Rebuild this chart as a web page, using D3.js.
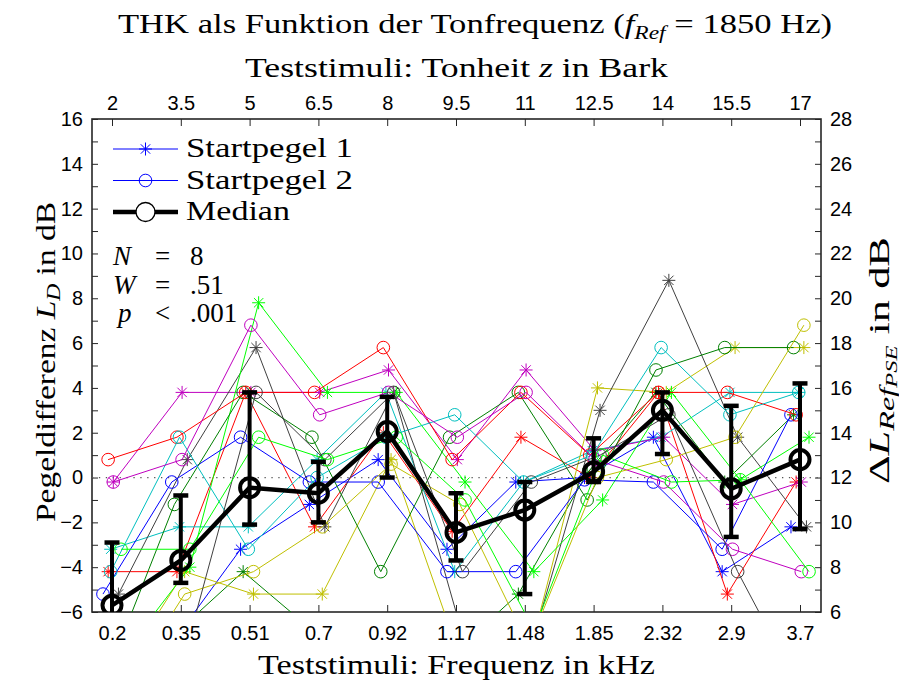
<!DOCTYPE html>
<html>
<head>
<meta charset="utf-8">
<script src="https://cdn.jsdelivr.net/npm/d3@7"></script>
<style>
  body { margin: 0; background: #fff; }
  svg { display: block; }
  .serif { font-family: "Liberation Serif", "Times New Roman", serif; fill: #000; }
  .tick text { font-family: "Liberation Sans", Arial, sans-serif; font-size: 20px; fill: #000; }
</style>
</head>
<body>
<svg id="chart" width="899" height="682"></svg>
<script>
// ---- data ----------------------------------------------------------------
const frequencies = ["0.2", "0.35", "0.51", "0.7", "0.92", "1.17", "1.48", "1.85", "2.32", "2.9", "3.7"];
const barkValues  = ["2", "3.5", "5", "6.5", "8", "9.5", "11", "12.5", "14", "15.5", "17"];
const leftTicks   = [-6, -4, -2, 0, 2, 4, 6, 8, 10, 12, 14, 16];
const rightTicks  = [6, 8, 10, 12, 14, 16, 18, 20, 22, 24, 26, 28];

// level differences per subject (8 subjects), start level 1 (asterisks)
const startpegel1 = [
  [-8.0, -7.4, -3.2, -1.2,  0.8, -3.2, -0.2,  0.0,  1.8, -4.2, -2.2],
  [-9.0, -7.0, -4.2, -6.8, -7.0, -8.0, -5.2,  0.2,  3.8, -0.2,  2.8],
  [-4.2, -4.2,  3.8, -2.2,  2.0, -2.4,  1.8,  0.0,  3.8, -5.2, -0.2],
  [-3.2, -2.2, -2.2,  0.8,  3.8, -4.2, -0.2,  1.2,  1.8,  3.8,  3.8],
  [-0.2,  3.8,  3.8,  3.8,  4.8,  0.8,  4.8,  1.2,  1.8, -1.2, -0.2],
  [-9.0, -4.2, -5.2, -5.2,  0.8, -8.0, -8.0,  4.0,  3.8,  5.8,  5.8],
  [-5.2,  0.8,  5.8, -2.2,  3.8, -7.0, -7.5,  3.0,  8.8,  1.8, -2.2],
  [-8.0, -4.0,  7.8,  3.8,  3.8, -0.2, -4.2, -1.0,  3.8, -0.1,  1.8]
];
// start level 2 (circles)
const startpegel2 = [
  [ -5.2, -0.2,  1.8, -0.2, -0.2, -4.2, -4.2, -0.1, -0.2, -3.2,  2.8],
  [ -9.0, -1.2,  3.8,  1.8, -4.2,  1.8,  3.8, -1.0,  4.8,  5.8,  5.8],
  [  0.8,  1.8,  3.8,  3.8,  5.8,  0.8,  3.8,  1.0,  3.8,  3.8,  2.8],
  [ -4.2,  1.8, -3.2,  0.0,  1.8,  2.8, -0.2,  1.0,  5.8,  2.8,  3.8],
  [ -0.2,  0.8,  6.8,  2.8,  3.8,  1.8,  3.8,  0.8, -0.2, -3.2, -4.2],
  [-10.0, -5.2, -4.2, -2.2,  0.6, -1.2, -7.5,  0.0,  0.8,  1.8,  6.8],
  [-10.0, -7.5,  3.8,  0.8,  3.8, -4.2, -0.2,  1.0,  2.8, -4.2, -10.0],
  [ -3.2, -3.2,  1.8,  0.8,  1.8, -1.0, -6.8,  1.0, -0.2, -0.1, -4.2]
];

const medianValues = [-5.7, -3.7, -0.45, -0.7, 2.05, -2.45, -1.45, 0.25, 3.0, -0.5, 0.8];
const lowerBound   = [-7.0, -4.7, -2.1, -2.0, 0.0, -3.7, -5.2, -0.2, 1.05, -2.65, -2.3];
const upperBound   = [-2.9, -0.8, 3.8, 0.7, 3.6, -0.7, -0.2, 1.75, 3.8, 3.2, 4.2];

const subjectColors = ["#0000ff", "#008000", "#ff0000", "#00bfbf", "#bf00bf", "#bfbf00", "#404040", "#00ff00"];

// ---- layout ----------------------------------------------------------------
const svg = d3.select("#chart");
const frame = { left: 92, right: 821, top: 119, bottom: 612 };

const x = d3.scalePoint().domain(d3.range(frequencies.length)).range([112, 800]);
const y = d3.scaleLinear().domain([-6, 16]).range([frame.bottom, frame.top]);
const yRight = d3.scaleLinear().domain([6, 28]).range([frame.bottom, frame.top]);

// small horizontal spread so subjects do not sit on top of each other
const jitter = i => (i - 3.5) * x.step() * 0.0375;

svg.append("defs").append("clipPath").attr("id", "plotClip")
  .append("rect")
  .attr("x", frame.left).attr("y", frame.top)
  .attr("width", frame.right - frame.left).attr("height", frame.bottom - frame.top);

// ---- axes ----------------------------------------------------------------
const minorLeft = d3.range(-6, 17, 1);
const minorRight = d3.range(6, 29, 1);

svg.append("g").attr("transform", `translate(${frame.left},0)`)
  .call(d3.axisLeft(y).tickValues(minorLeft).tickSizeInner(-6).tickSizeOuter(0).tickPadding(9)
    .tickFormat(d => leftTicks.includes(d) ? (d < 0 ? "\u2212" + (-d) : d) : ""));

svg.append("g").attr("transform", `translate(${frame.right},0)`)
  .call(d3.axisRight(yRight).tickValues(minorRight).tickSizeInner(-6).tickSizeOuter(0).tickPadding(9)
    .tickFormat(d => rightTicks.includes(d) ? d : ""));

svg.append("g").attr("transform", `translate(0,${frame.bottom})`)
  .call(d3.axisBottom(x).tickSizeInner(-7).tickSizeOuter(0).tickPadding(14)
    .tickFormat(i => frequencies[i]));

svg.append("g").attr("transform", `translate(0,${frame.top})`)
  .call(d3.axisTop(x).tickSizeInner(-7).tickSizeOuter(0).tickPadding(9)
    .tickFormat(i => barkValues[i]));

svg.selectAll(".domain").remove();
svg.selectAll(".tick line").attr("stroke", "#262626").attr("stroke-width", 1);

// frame
svg.append("rect")
  .attr("x", frame.left).attr("y", frame.top)
  .attr("width", frame.right - frame.left).attr("height", frame.bottom - frame.top)
  .attr("fill", "none").attr("stroke", "#262626").attr("stroke-width", 1.6);

// zero reference line
const plotArea = svg.append("g").attr("clip-path", "url(#plotClip)");
plotArea.append("line")
  .attr("x1", frame.left).attr("x2", frame.right)
  .attr("y1", y(0)).attr("y2", y(0))
  .attr("stroke", "#555").attr("stroke-width", 1.2)
  .attr("stroke-dasharray", "1.3,5.6");

// ---- subject series --------------------------------------------------------
const asteriskPath = s => {
  const a = s * 0.72;
  return `M${-s},0H${s}M0,${-s}V${s}M${-a},${-a}L${a},${a}M${-a},${a}L${a},${-a}`;
};

const line = d3.line().x(d => d.x).y(d => d.y);

function drawSeries(values, kind) {
  values.forEach((row, s) => {
    const pts = row.map((v, i) => ({ x: x(i) + jitter(s), y: y(v) }));
    const g = plotArea.append("g");
    g.append("path").datum(pts).attr("d", line)
      .attr("fill", "none").attr("stroke", subjectColors[s]).attr("stroke-width", 1);
    if (kind === "star") {
      g.selectAll("path.m").data(pts).join("path").attr("class", "m")
        .attr("transform", d => `translate(${d.x},${d.y})`)
        .attr("d", asteriskPath(6.5))
        .attr("stroke", subjectColors[s]).attr("stroke-width", 1).attr("fill", "none");
    } else {
      g.selectAll("circle").data(pts).join("circle")
        .attr("cx", d => d.x).attr("cy", d => d.y).attr("r", 6.3)
        .attr("stroke", subjectColors[s]).attr("stroke-width", 1).attr("fill", "none");
    }
  });
}
drawSeries(startpegel1, "star");
drawSeries(startpegel2, "circle");

// ---- median with error bars -------------------------------------------------
const med = plotArea.append("g");
medianValues.forEach((m, i) => {
  const cx = x(i);
  med.append("line").attr("x1", cx).attr("x2", cx)
    .attr("y1", y(lowerBound[i])).attr("y2", y(upperBound[i]))
    .attr("stroke", "#000").attr("stroke-width", 4);
  [lowerBound[i], upperBound[i]].forEach(b => {
    med.append("line").attr("x1", cx - 7.5).attr("x2", cx + 7.5)
      .attr("y1", y(b)).attr("y2", y(b))
      .attr("stroke", "#000").attr("stroke-width", 4.5);
  });
});
med.append("path")
  .datum(medianValues.map((v, i) => ({ x: x(i), y: y(v) })))
  .attr("d", line).attr("fill", "none").attr("stroke", "#000").attr("stroke-width", 4.5);
med.selectAll("circle").data(medianValues).join("circle")
  .attr("cx", (d, i) => x(i)).attr("cy", d => y(d)).attr("r", 9.5)
  .attr("fill", "none").attr("stroke", "#000").attr("stroke-width", 4);

// ---- text ----------------------------------------------------------------
function serifText(parent, px, py, width, size) {
  const t = parent.append("text").attr("class", "serif")
    .attr("x", px).attr("y", py).attr("font-size", size);
  if (width) t.attr("textLength", width).attr("lengthAdjust", "spacingAndGlyphs");
  return t;
}

// title
const title = serifText(svg, 118, 33, 714, 28);
title.append("tspan").text("THK als Funktion der Tonfrequenz (");
title.append("tspan").attr("font-style", "italic").text("f");
title.append("tspan").attr("font-style", "italic").attr("font-size", 19).attr("dy", 6).text("Ref");
title.append("tspan").attr("dy", -6).text(" = 1850 Hz)");

// top axis label
const topLabel = serifText(svg, 245, 77, 423, 27);
topLabel.append("tspan").text("Teststimuli: Tonheit ");
topLabel.append("tspan").attr("font-style", "italic").text("z");
topLabel.append("tspan").text(" in Bark");

// bottom axis label
serifText(svg, 258, 674, 397, 27).text("Teststimuli: Frequenz in kHz");

// left axis label
const leftLabel = svg.append("g").attr("transform", "translate(55,522) rotate(-90)");
const ll = serifText(leftLabel, 0, 0, 320, 27);
ll.append("tspan").text("Pegeldifferenz ");
ll.append("tspan").attr("font-style", "italic").text("L");
ll.append("tspan").attr("font-style", "italic").attr("font-size", 19).attr("dy", 5).text("D");
ll.append("tspan").attr("dy", -5).text(" in dB");

// right axis label
const rightLabel = svg.append("g").attr("transform", "translate(889,484) rotate(-90)");
const rl = serifText(rightLabel, 0, 0, 247, 29);
rl.append("tspan").text("\u0394");
rl.append("tspan").attr("font-style", "italic").text("L");
rl.append("tspan").attr("font-style", "italic").attr("font-size", 21).attr("dy", 5).text("Ref");
rl.append("tspan").attr("font-style", "italic").attr("font-size", 16).attr("dy", 3).text("PSE");
rl.append("tspan").attr("dy", -8).text(" in dB");

// legend
const legendRows = [
  { label: "Startpegel 1", kind: "star" },
  { label: "Startpegel 2", kind: "circle" },
  { label: "Median", kind: "median" }
];
const legend = svg.append("g");
legendRows.forEach((r, k) => {
  const ly = 149 + k * 31.5;
  const isMed = r.kind === "median";
  const col = isMed ? "#000" : subjectColors[0];
  legend.append("line").attr("x1", 113).attr("x2", 178).attr("y1", ly).attr("y2", ly)
    .attr("stroke", col).attr("stroke-width", isMed ? 4.5 : 1);
  if (r.kind === "star") {
    legend.append("path").attr("transform", `translate(145.5,${ly})`).attr("d", asteriskPath(6.5))
      .attr("stroke", col).attr("fill", "none");
  } else {
    legend.append("circle").attr("cx", 145.5).attr("cy", ly).attr("r", isMed ? 9.5 : 6.3)
      .attr("stroke", col).attr("stroke-width", isMed ? 1.3 : 1).attr("fill", isMed ? "#fff" : "none");
  }
  serifText(legend, 186, ly + 8, isMed ? 104 : 167, 27).text(r.label);
});

// statistics
const stats = [
  { sym: "N", op: "=", val: "8" },
  { sym: "W", op: "=", val: ".51" },
  { sym: "p", op: "<", val: ".001" }
];
stats.forEach((s, k) => {
  const by = 265 + k * 28.5;
  serifText(svg, s.sym === "p" ? 118 : 113, by, null, 27).attr("font-style", "italic").text(s.sym);
  serifText(svg, 155, by, null, 27).text(s.op);
  serifText(svg, 190, by, null, 27).text(s.val);
});
</script>
</body>
</html>
